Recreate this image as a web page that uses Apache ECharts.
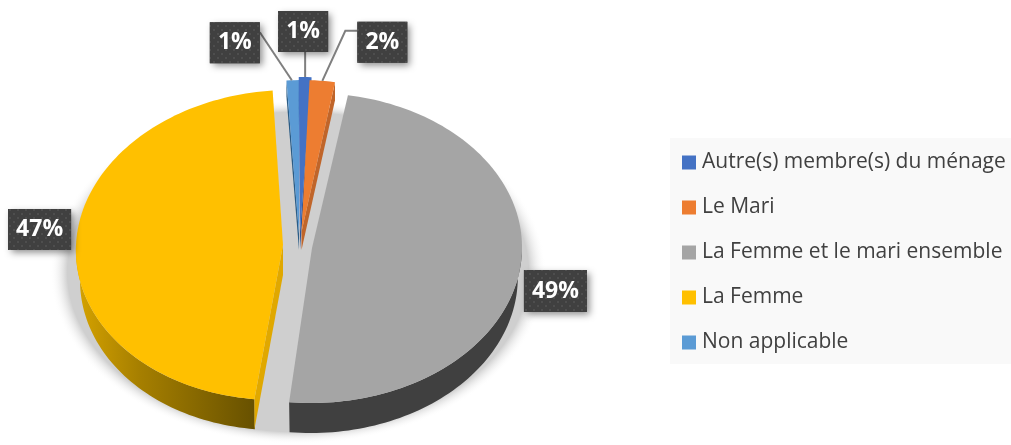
<!DOCTYPE html>
<html><head><meta charset="utf-8">
<style>html,body{margin:0;padding:0;background:#fff}#c{width:1011px;height:445px}</style>
<script src="https://cdn.jsdelivr.net/npm/echarts@6/dist/echarts.min.js"></script>
</head><body><div id="c"></div>
<script>
const categories = ['Autre(s) membre(s) du ménage','Le Mari','La Femme et le mari ensemble','La Femme','Non applicable'];
const values = [1, 2, 49, 47, 1];
const colors = ['#4472C4','#ED7D31','#A5A5A5','#FFC000','#5B9BD5'];
const startAngle = -1.2;

// Projected-disc layout of each exploded slice (pixels)
const discs = [
  {cx:303,  cy:235, rx:204, ry:158, depth:18, apexDx:-3,  apexDy:-3, shear:0},
  {cx:301,  cy:238, rx:204, ry:158, depth:18, apexDx:0.5, apexDy:-6, shear:0},
  {cx:312,  cy:248, rx:210, ry:155, depth:30, apexDx:0,   apexDy:0,  shear:-0.006},
  {cx:283,  cy:245, rx:207, ry:155, depth:30, apexDx:0,   apexDy:0,  shear:-0.045},
  {cx:303.5,cy:238, rx:204, ry:158, depth:16, apexDx:-4.5,apexDy:-4, shear:0}
];
const wallColors = ['#2F5597','#C0652A','#404040',null,'#2B5C85'];
const cutColors  = ['#2F5597','#C0652A','#404040','#E0A800','#2B5C85'];
const labelOffsets = [[-2,-45.5],[60,-38.5],[35.5,22],[-36.5,-14],[-58,-37.5]];
const labelSizes = [[50,41],[50,41],[63,42],[63,41],[50,41]];
const leaders = [
  [[0,0],[0,-25]],
  [[0,0],[23,-50],[35,-50]],
  null, null,
  [[-1,0],[-33,-48]]
];
const zOrder = [5,6,2,3,4];

const total = values.reduce((a,b)=>a+b,0);
function sliceRange(i){
  let s = startAngle;
  for(let k=0;k<i;k++) s += values[k]/total*360;
  return [s, s + values[i]/total*360];
}
const rad = a => a*Math.PI/180;
function rim(d,a,scale){
  const k = scale||1;
  const y = -d.ry*Math.cos(rad(a));
  return [d.cx + d.rx*k*Math.sin(rad(a)) + d.shear*y, d.cy + y];
}
function arc(d,a0,a1,scale,dy){
  const out=[], n=Math.max(2,Math.ceil(Math.abs(a1-a0)/1.5));
  for(let j=0;j<=n;j++){
    const p=rim(d,a0+(a1-a0)*j/n,scale);
    out.push([p[0],p[1]+(dy||0)]);
  }
  return out;
}
const dots = document.createElement('canvas');
dots.width=16;dots.height=16;
(function(){
  const g=dots.getContext('2d');
  g.fillStyle='#404040';g.fillRect(0,0,16,16);
  g.fillStyle='#525252';
  [[2,2],[10,2],[6,6],[14,6],[2,10],[10,10],[6,14],[14,14]].forEach(p=>{g.beginPath();g.arc(p[0],p[1],1.1,0,7);g.fill();});
})();

function renderSlice(i){
  return function(params,api){
    const d=discs[i], v=api.value(0);
    const [a0,a1]=sliceRange(i);
    const apex=[d.cx+d.apexDx,d.cy+d.apexDy];
    const children=[];
    if(i===2){
      children.push({type:'circle',shape:{cx:0,cy:0,r:172},x:298,y:272,scaleX:248/172,scaleY:1,
        style:{fill:{type:'radial',x:0.5,y:0.5,r:0.5,colorStops:[
          {offset:0,color:'#CFCFCF'},{offset:0.93,color:'#CFCFCF'},{offset:1,color:'rgba(255,255,255,0)'}]}}});
    }
    // outer wall
    const w0=Math.max(a0,90), w1=Math.min(a1,270);
    if(w1>w0){
      const top=arc(d,w0,w1,1,0), bot=arc(d,w1,w0,0.98,d.depth);
      let fill=wallColors[i];
      if(i===3){
        fill=new echarts.graphic.LinearGradient(76,0,257,0,[
          {offset:0,color:'#D6A300'},{offset:0.35,color:'#A67F00'},{offset:1,color:'#665000'}],true);
      }
      children.push({type:'polygon',shape:{points:top.concat(bot)},style:{fill}});
    }
    // cut faces
    const cut=[];
    if(Math.sin(rad(a1))>0) cut.push(a1);
    if(Math.sin(rad(a0))<0) cut.push(a0);
    cut.forEach(a=>{
      const c=rim(d,a);
      children.push({type:'polygon',shape:{points:[apex,[apex[0],apex[1]+d.depth],[c[0],c[1]+d.depth],c]},
        style:{fill:cutColors[i]}});
    });
    // top face
    children.push({type:'polygon',shape:{points:[apex].concat(arc(d,a0,a1))},style:{fill:colors[i]}});
    // label
    const mid=rim(d,(a0+a1)/2);
    if(leaders[i]){
      children.push({type:'polyline',shape:{points:leaders[i].map(o=>[mid[0]+o[0],mid[1]+o[1]])},
        style:{stroke:'#7F7F7F',lineWidth:2,fill:'none'}});
    }
    const lc=[mid[0]+labelOffsets[i][0],mid[1]+labelOffsets[i][1]], sz=labelSizes[i];
    const box={x:lc[0]-sz[0]/2,y:lc[1]-sz[1]/2,width:sz[0],height:sz[1]};
    children.push({type:'rect',shape:box,style:{fill:'#404040',shadowBlur:7,shadowOffsetX:3,shadowOffsetY:3,shadowColor:'rgba(0,0,0,0.45)'}});
    children.push({type:'rect',shape:box,style:{fill:{image:dots,repeat:'repeat'}}});
    children.push({type:'text',style:{x:lc[0],y:lc[1],text:v+'%',fill:'#fff',
      font:'bold 23px "Open Sans"',align:'center',verticalAlign:'middle'}});
    return {type:'group',children};
  };
}

const chart=echarts.init(document.getElementById('c'),null,{renderer:'canvas'});
chart.setOption({
  animation:false,
  backgroundColor:'#fff',
  legend:{
    data:categories,orient:'vertical',left:670,top:138,
    padding:[10,6,7,12],
    backgroundColor:'#F9F9F9',
    icon:'rect',itemWidth:14,itemHeight:14,itemGap:16,
    textStyle:{color:'#404040',fontFamily:'"Open Sans"',fontSize:21,lineHeight:29,padding:[0,0,0,1]},
    selectedMode:false
  },
  series:categories.map((name,i)=>({
    type:'custom',name,coordinateSystem:'none',z:zOrder[i],
    itemStyle:{color:colors[i]},
    data:[[values[i]]],
    renderItem:renderSlice(i)
  }))
});
</script></body></html>
